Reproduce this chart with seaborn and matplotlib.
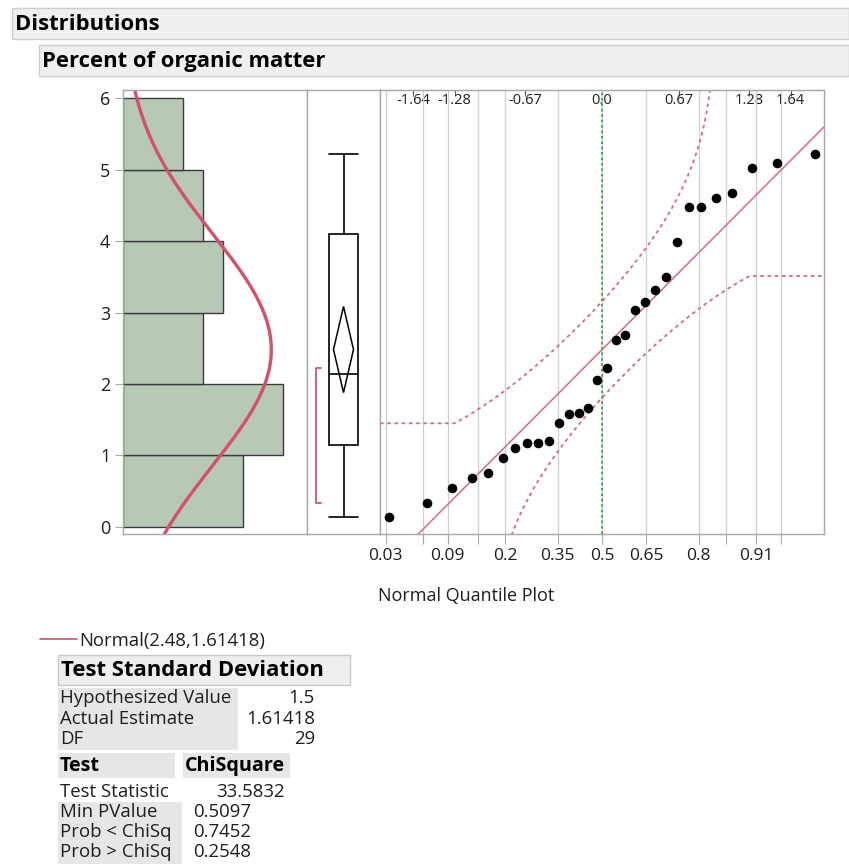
import math
import numpy as np
import pandas as pd
import matplotlib
matplotlib.use("Agg")
import matplotlib.pyplot as plt
from matplotlib.patches import Rectangle, Polygon
from matplotlib.lines import Line2D
import seaborn as sns

# Percent of organic matter for 30 soil samples (sorted)
organic_matter = [0.14, 0.33, 0.55, 0.69, 0.76, 0.97, 1.10, 1.17, 1.17, 1.20,
                  1.46, 1.58, 1.59, 1.66, 2.06, 2.22, 2.62, 2.69, 3.03, 3.15,
                  3.31, 3.50, 3.98, 4.47, 4.47, 4.60, 4.67, 5.02, 5.09, 5.21]
fit_mean = 2.48
fit_sd = 1.61418
hist_bins = [0, 1, 2, 3, 4, 5, 6]
y_ticks = [0, 1, 2, 3, 4, 5, 6]
prob_ticks = [0.03, 0.06, 0.09, 0.14, 0.2, 0.35, 0.5, 0.65, 0.8, 0.86, 0.91, 0.94]
prob_labels = ["0.03", "", "0.09", "", "0.2", "0.35", "0.5", "0.65", "0.8", "", "0.91", ""]
z_ticks = [-1.64, -1.28, -0.67, 0.0, 0.67, 1.28, 1.64]
z_labels = ["-1.64", "-1.28", "-0.67", "0.0", "0.67", "1.28", "1.64"]

report_title = "Distributions"
variable_title = "Percent of organic matter"
fit_label = "Normal(2.48,1.61418)"
test_title = "Test Standard Deviation"
test_rows = ["Hypothesized Value", "Actual Estimate", "DF"]
test_values = ["1.5", "1.61418", "29"]
chi_header = ["Test", "ChiSquare"]
chi_stat = ["Test Statistic", "33.5832"]
p_rows = ["Min PValue", "Prob < ChiSq", "Prob > ChiSq"]
p_values = ["0.5097", "0.7452", "0.2548"]

sns.set_style("white")
plt.rcParams["font.family"] = ["Open Sans", "DejaVu Sans"]

RED = "#d2506c"
RED_THIN = "#d86a80"
BAR = "#b7c8b7"
FRAME = "#a8a8a8"
GRID = "#cfcfcf"
TXT = "#1e1e1e"

W, H = 849, 864
fig = plt.figure(figsize=(W / 100, H / 100), dpi=100)
fig.patch.set_facecolor("white")


def fx(px):
    return px / W


def fy(py):
    return 1 - py / H


def axes_px(x0, x1, y0, y1):
    return fig.add_axes([fx(x0), fy(y1), fx(x1) - fx(x0), (y1 - y0) / H])


_erf = np.vectorize(math.erf)


def norm_cdf(z):
    return 0.5 * (1 + _erf(np.asarray(z, dtype=float) / math.sqrt(2)))


_zg = np.linspace(-8, 8, 40001)
_cg = norm_cdf(_zg)


def norm_ppf(p):
    return np.interp(p, _cg, _zg)


def norm_pdf(x, m, s):
    return np.exp(-0.5 * ((x - m) / s) ** 2) / (s * math.sqrt(2 * math.pi))


values = np.sort(np.array(organic_matter))
n = len(values)
ylim = (-0.098, 6.112)

# ---- header bands ----
for (x0, y0, y1, label) in [(12, 8, 39, report_title), (39, 45, 76, variable_title)]:
    fig.add_artist(Rectangle((fx(x0), fy(y1)), fx(W) - fx(x0), (y1 - y0) / H,
                             transform=fig.transFigure, facecolor="#efefef",
                             edgecolor="#cdcdcd", lw=1))
    fig.text(fx(x0 + 3), fy((y0 + y1) / 2 + 1), label, fontsize=15.8, fontweight="bold",
             va="center", ha="left", color="black")

# ---- histogram with fitted normal ----
ax_h = axes_px(123, 307, 90, 534)
sns.histplot(y=values, bins=hist_bins, ax=ax_h, color=BAR, edgecolor="#3c3c3c",
             linewidth=1, alpha=1)
yy = np.linspace(ylim[0], ylim[1], 400)
bin_w = hist_bins[1] - hist_bins[0]
curve = pd.DataFrame({"y": yy, "count": n * bin_w * norm_pdf(yy, fit_mean, fit_sd)})
sns.lineplot(data=curve, x="count", y="y", orient="y", sort=False, estimator=None,
             ax=ax_h, color=RED, lw=2.4)
ax_h.set_xlim(0, 9.2)
ax_h.set_ylim(*ylim)
ax_h.set_yticks(y_ticks)
ax_h.set_yticklabels([str(t) for t in y_ticks])
ax_h.set_xticks([])
ax_h.set_xlabel("")
ax_h.set_ylabel("")
ax_h.tick_params(axis="y", left=True, length=6, width=0.8, color=FRAME, pad=3,
                 labelsize=13, labelcolor=TXT)

# ---- outlier box plot (quartiles at (n+1)p positions) ----
ax_b = axes_px(307, 380, 90, 534)
q1, med, q3 = np.percentile(values, [25, 50, 75], method="weibull")
iqr = q3 - q1
box_stats = [{
    "med": med, "q1": q1, "q3": q3,
    "whislo": values[values >= q1 - 1.5 * iqr].min(),
    "whishi": values[values <= q3 + 1.5 * iqr].max(),
    "fliers": [],
}]
line_kw = dict(color="black", lw=1.2)
ax_b.bxp(box_stats, positions=[0], widths=0.41, capwidths=0.41, patch_artist=True,
         showfliers=False, manage_ticks=False,
         boxprops=dict(facecolor="white", edgecolor="black", lw=1.2),
         medianprops=line_kw, whiskerprops=line_kw, capprops=line_kw)
ax_b.set_xlim(-0.5, 0.5)
ax_b.set_ylim(*ylim)
# mean confidence diamond
m = values.mean()
half_ci = 2.045 * values.std(ddof=1) / math.sqrt(n)
hw = 0.137
ax_b.add_patch(Polygon([[-hw, m], [0, m + half_ci], [hw, m], [0, m - half_ci]],
                       closed=True, fill=False, edgecolor="black", lw=1.1, zorder=5))
# shortest half bracket
k = int(math.ceil(n / 2))
spans = values[k - 1:] - values[:n - k + 1]
i0 = int(np.argmin(spans))
lo, hi = values[i0], values[i0 + k - 1]
bx = -0.375
ax_b.plot([bx + 0.07, bx, bx, bx + 0.07], [lo, lo, hi, hi], color=RED, lw=1.3)
ax_b.set_xticks([])
ax_b.set_yticks([])

# ---- normal quantile plot ----
ax_q = axes_px(380, 824, 90, 534)
zlim = (-1.93, 1.93)
ax_q.set_xlim(*zlim)
ax_q.set_ylim(*ylim)
z_pts = norm_ppf(np.arange(1, n + 1) / (n + 1))
zz = np.linspace(zlim[0], zlim[1], 400)
d_crit = 0.886 / math.sqrt(n)
p_eff = np.clip(norm_cdf(zz), 0.1, 0.9)
band = pd.DataFrame({
    "z": zz,
    "fit": fit_mean + fit_sd * zz,
    "upper": fit_mean + fit_sd * norm_ppf(p_eff + d_crit),
    "lower": fit_mean + fit_sd * norm_ppf(p_eff - d_crit),
})
ax_q.set_xticks(norm_ppf(np.array(prob_ticks)))
ax_q.set_xticklabels(prob_labels)
ax_q.grid(axis="x", color=GRID, lw=0.9)
ax_q.set_axisbelow(True)
ax_q.axvline(0, color="#3aa84a", lw=1.3, ls=(0, (1.5, 1.5)), zorder=2)
for col in ["upper", "lower"]:
    sns.lineplot(data=band, x="z", y=col, ax=ax_q, color=RED_THIN, lw=1.3,
                 linestyle=(0, (2, 2)))
sns.lineplot(data=band, x="z", y="fit", ax=ax_q, color=RED_THIN, lw=1.1)
qq = pd.DataFrame({"z": z_pts, "value": values})
sns.scatterplot(data=qq, x="z", y="value", ax=ax_q, color="black", s=48,
                linewidth=0, zorder=6)
ax_q.set_yticks([])
ax_q.set_xlabel("")
ax_q.set_ylabel("")
ax_q.tick_params(axis="x", bottom=True, length=7, width=0.8, color=FRAME, pad=3,
                 labelsize=12.5, labelcolor=TXT)
top = ax_q.secondary_xaxis("top")
top.set_xticks(z_ticks)
top.set_xticklabels(z_labels)
top.tick_params(direction="in", length=4, width=0.8, color="#555555", pad=-13,
                labelsize=10.5, labelcolor=TXT)
top.spines["top"].set_color(FRAME)

for ax in (ax_h, ax_b, ax_q):
    for sp in ax.spines.values():
        sp.set_color(FRAME)
        sp.set_linewidth(1)
        sp.set_visible(True)

fig.text(fx(466), fy(596), "Normal Quantile Plot", fontsize=13, ha="center",
         va="center", color=TXT)

# ---- legend for the fitted curve ----
fig.add_artist(Line2D([fx(40), fx(77)], [fy(639), fy(639)], color=RED, lw=1.2,
                      transform=fig.transFigure))
fig.text(fx(79), fy(641), fit_label, fontsize=13.3, ha="left", va="center", color=TXT)

# ---- Test Standard Deviation report ----
def band_rect(x0, x1, y0, y1, face, edge=None):
    fig.add_artist(Rectangle((fx(x0), fy(y1)), fx(x1) - fx(x0), (y1 - y0) / H,
                             transform=fig.transFigure, facecolor=face,
                             edgecolor=edge if edge else "none", lw=1))


FS = 13.4
band_rect(58, 350, 655, 685, "#eeeeee", "#c8c8c8")
fig.text(fx(61), fy(671), test_title, fontsize=15.8, fontweight="bold",
         ha="left", va="center", color="black")
band_rect(58, 238, 688, 750, "#e6e6e6")
for i, (lab, val) in enumerate(zip(test_rows, test_values)):
    yc = 698 + 20.5 * i
    fig.text(fx(60), fy(yc), lab, fontsize=FS, ha="left", va="center", color=TXT)
    fig.text(fx(315), fy(yc), val, fontsize=FS, ha="right", va="center", color=TXT)

band_rect(58, 175, 753, 778, "#e6e6e6")
band_rect(183, 290, 753, 778, "#e6e6e6")
fig.text(fx(60), fy(766), chi_header[0], fontsize=14.2, fontweight="bold",
         ha="left", va="center", color="black")
fig.text(fx(185), fy(766), chi_header[1], fontsize=14.2, fontweight="bold",
         ha="left", va="center", color="black")
fig.text(fx(60), fy(792), chi_stat[0], fontsize=FS, ha="left", va="center", color=TXT)
fig.text(fx(285), fy(792), chi_stat[1], fontsize=FS, ha="right", va="center", color=TXT)
band_rect(58, 182, 802, 864, "#e6e6e6")
for i, (lab, val) in enumerate(zip(p_rows, p_values)):
    yc = 812 + 20 * i
    fig.text(fx(60), fy(yc), lab, fontsize=FS, ha="left", va="center", color=TXT)
    fig.text(fx(193), fy(yc), val, fontsize=FS, ha="left", va="center", color=TXT)

fig.savefig("out.png", dpi=100, facecolor="white")
